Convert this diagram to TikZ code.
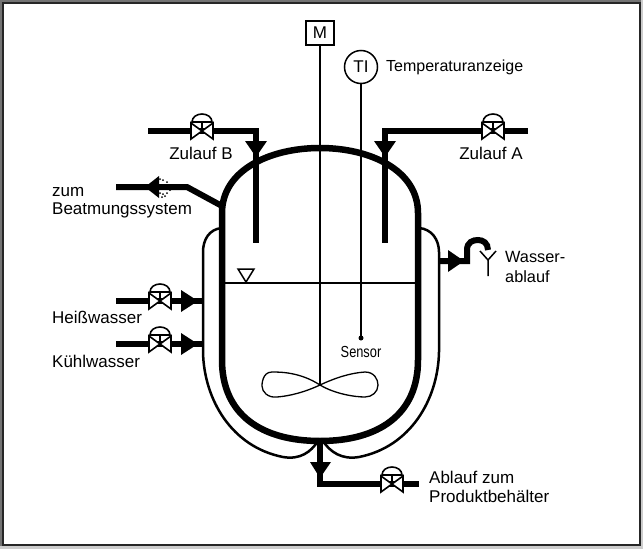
\documentclass[tikz,border=0pt]{standalone}
\usepackage{fontspec}
\setmainfont{Liberation Sans}
\newfontfamily\narrowfont[FakeStretch=0.8]{Liberation Sans}
\tikzset{
  x=1pt,y=-1pt,
  pipe/.style={line width=6pt,line cap=butt,line join=miter},
  wall/.style={line width=6.5pt},
  jacket/.style={line width=2.5pt},
  thin/.style={line width=1.5pt},
  lab/.style={inner sep=0pt,font=\fontsize{17}{20}\selectfont},
  labl/.style={lab,anchor=west},
  valvebody/.style={line width=1.6pt,draw=black,fill=white},
  pics/valve/.style={code={
    \draw[valvebody,line join=miter] (-11,-8)--(11,8)--(11,-8)--(-11,8)--cycle;
    \draw[line width=1.6pt] (0,0)--(0,-9);
    \draw[valvebody] (-10,-9) .. controls (-10,-14) and (-5,-17) .. (0,-17) .. controls (5,-17) and (10,-14) .. (10,-9) -- cycle;
  }}
}
\begin{document}
\begin{tikzpicture}
\useasboundingbox (0,0) rectangle (643,549);
\fill[black!55] (0,0) rectangle (643,549);
\fill[black!20] (0,546) rectangle (643,549);
\fill[black!20] (641,0) rectangle (643,549);
\fill[black!85] (2,2) rectangle (641,546);
\fill[white] (4,4) rectangle (639,544);
% jacket
\draw[jacket] (222,228) .. controls (209,229) and (203,240) .. (203,252) -- (203,352)
  .. controls (204,400) and (232,447) .. (283,457)
  .. controls (300,460) and (311,452) .. (318,441);
\draw[jacket] (419,228) .. controls (432,229) and (439,240) .. (439,252) -- (439,352)
  .. controls (438,400) and (410,447) .. (359,457)
  .. controls (342,460) and (330,452) .. (323,441);
% vessel
\draw[wall] (222,213) .. controls (222,170) and (270,148) .. (320,148)
  .. controls (370,148) and (418,170) .. (418,213) -- (418,360)
  .. controls (418,415) and (378,441) .. (320,441)
  .. controls (262,441) and (222,415) .. (222,360) -- cycle;
% level
\draw[thin] (224,283) -- (416,283);
\draw[thin,fill=white,line join=miter] (238,269) -- (254,269) -- (246,282) -- cycle;
% instruments
\node[draw,line width=1.5pt,minimum width=28pt,minimum height=24pt,inner sep=0pt,lab] (M) at (320,33) {M};
\node[draw,circle,line width=1.5pt,minimum size=33pt,inner sep=0pt,lab] (TI) at (361,67) {TI};
\coordinate (blade) at (320,385);
\coordinate (probe) at (361,338);
\draw[thin] (M) -- (blade);
\draw[thin] (TI) -- (probe);
\fill (probe) circle (2.5);
\node[inner sep=0pt,font=\narrowfont\fontsize{16}{18}\selectfont] (sensor) at (361,352) {Sensor};
\draw[line width=1.3pt] (320,385) .. controls (300,372) and (280,372) .. (272,372)
  .. controls (262,372) and (262,385) .. (262,386)
  .. controls (262,392) and (268,398) .. (277,397)
  .. controls (290,396) and (305,392) .. (320,385)
  .. controls (335,378) and (350,373) .. (365,372)
  .. controls (374,372) and (378,379) .. (378,385)
  .. controls (378,392) and (372,397) .. (365,397)
  .. controls (355,397) and (335,394) .. (320,385);
\coordinate (bL) at (148,131); \coordinate (bC) at (256,131); \coordinate (bE) at (256,243);
\draw[pipe] (bL) -- (bC) -- (bE);
\fill (245,141) -- (267,141) -- (256,157) -- cycle;
\coordinate (aR) at (528,131); \coordinate (aC) at (385,131); \coordinate (aE) at (385,243);
\draw[pipe] (aR) -- (aC) -- (aE);
\fill (374,141) -- (396,141) -- (385,157) -- cycle;
\pic at (202,131) {valve};
\pic at (493,131) {valve};
% vent
\draw[pipe] (116,187) -- (187,187) -- (222,206);
\fill (145,187) -- (159,176) -- (159,198) -- cycle;
\foreach \p in {(160,179),(163,180),(167,182),(171,186),(170,190),(167,193),(163,194),(162,197),(165,196),(160,193)}
  \fill \p circle (1);
% water in
\draw[pipe] (116,301) -- (203,301);
\fill (181,290) -- (198,301) -- (181,312) -- cycle;
\pic at (160,301) {valve};
\draw[pipe] (116,344) -- (203,344);
\fill (181,333) -- (198,344) -- (181,355) -- cycle;
\pic at (160,344) {valve};
% water outlet
\draw[pipe] (439,261) -- (467,261) -- (467,250) .. controls (467,242) and (473,240) .. (478,240) .. controls (483,240) and (488,243) .. (488,250);
\fill (448,250) -- (464,261) -- (448,272) -- cycle;
\draw[line width=1.5pt] (488,276) -- (488,260) -- (480,251) (488,260) -- (496,251);
% bottom outlet
\draw[pipe] (320,441) -- (320,484) -- (419,484);
\fill (310,462) -- (331,462) -- (320,478) -- cycle;
\pic at (392,484) {valve};
% labels
\node[lab] (zb) at (201,153) {Zulauf B};
\node[lab] (za) at (491,153) {Zulauf A};
\node[labl,font=\fontsize{16}{18}\selectfont] (t) at (386,67) {Temperaturanzeige};
\node[labl] (z) at (52,192) {zum};
\node[labl] (bs) at (52,210) {Beatmungssystem};
\node[labl] (hw) at (52,317) {Heißwasser};
\node[labl] (kw) at (52,361) {Kühlwasser};
\node[labl,font=\fontsize{16.3}{18}\selectfont] (w1) at (505,257) {Wasser-};
\node[labl,font=\fontsize{16.3}{18}\selectfont] (w2) at (505,277) {ablauf};
\node[labl] (a1) at (429,477) {Ablauf zum};
\node[labl] (a2) at (429,496) {Produktbehälter};
\end{tikzpicture}
\end{document}
